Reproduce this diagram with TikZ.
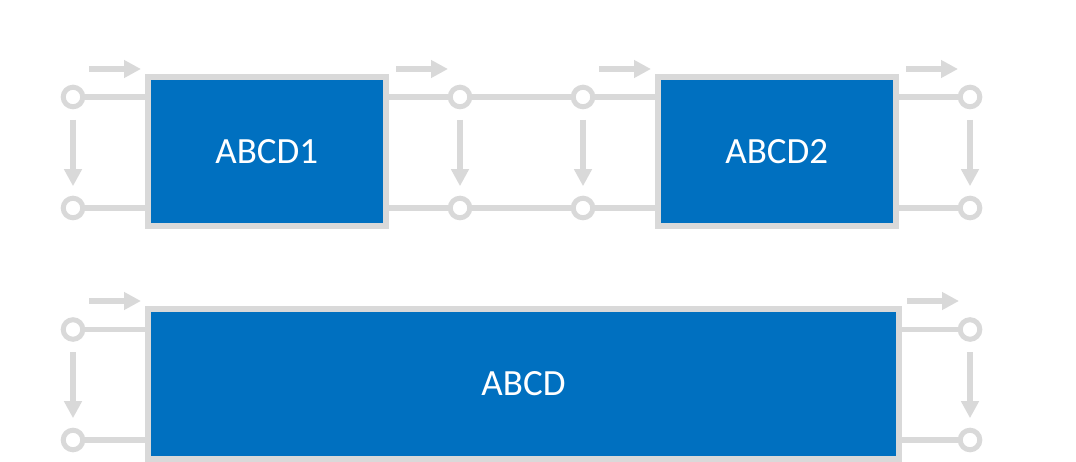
\documentclass[tikz,border=0pt]{standalone}
\usepackage{fontspec}
\setmainfont{Carlito}
\usetikzlibrary{arrows.meta}
\definecolor{linegray}{HTML}{D9D9D9}
\definecolor{blockblue}{HTML}{0070C0}

\begin{document}
\begin{tikzpicture}[x=1pt, y=-1pt,
  port/.style={circle, draw=linegray, line width=5pt, fill=white, minimum size=19.6pt, inner sep=0pt, outer sep=0pt},
  block/.style={draw=linegray, line width=6pt, fill=blockblue, text=white, inner sep=0pt, outer sep=0pt, minimum height=149pt, font=\fontsize{37}{44}\selectfont},
  wire/.style={draw=linegray, line width=5.5pt},
  flow/.style={draw=linegray, line width=6pt, -{Triangle[length=17pt, width=17pt]}}]
\useasboundingbox (0,0) rectangle (1076,462);
% Blocks
\node[block, minimum width=237.5pt] (b1) at (266.75,151.5) {ABCD1};
\node[block, minimum width=237.5pt] (b2) at (776.75,151.5) {ABCD2};
\node[block, minimum width=751pt, minimum height=149.5pt] (b3) at (523.5,383.75) {ABCD};
% Ports
\node[port] (p1a) at (73,97) {};
\node[port] (p1b) at (73,208) {};
\node[port] (p2a) at (460,97) {};
\node[port] (p2b) at (460,208) {};
\node[port] (p3a) at (583,97) {};
\node[port] (p3b) at (583,208) {};
\node[port] (p4a) at (970,97) {};
\node[port] (p4b) at (970,208) {};
\node[port] (q1a) at (73,329.5) {};
\node[port] (q1b) at (73,440) {};
\node[port] (q2a) at (970,329.5) {};
\node[port] (q2b) at (970,440) {};
% Wires
\draw[wire] (p1a) -- (p1a -| b1.west);
\draw[wire] (p1b) -- (p1b -| b1.west);
\draw[wire] (b1.east |- p2a) -- (p2a);
\draw[wire] (b1.east |- p2b) -- (p2b);
\draw[wire] (p2a) -- (p3a);
\draw[wire] (p2b) -- (p3b);
\draw[wire] (p3a) -- (p3a -| b2.west);
\draw[wire] (p3b) -- (p3b -| b2.west);
\draw[wire] (b2.east |- p4a) -- (p4a);
\draw[wire] (b2.east |- p4b) -- (p4b);
\draw[wire] (q1a) -- (q1a -| b3.west);
\draw[wire] (q1b) -- (q1b -| b3.west);
\draw[wire] (b3.east |- q2a) -- (q2a);
\draw[wire] (b3.east |- q2b) -- (q2b);
% Arrows
\draw[flow, shorten <=13pt, shorten >=12pt] (p1a) -- (p1b);
\draw[flow, shorten <=13pt, shorten >=12pt] (p2a) -- (p2b);
\draw[flow, shorten <=13pt, shorten >=12pt] (p3a) -- (p3b);
\draw[flow, shorten <=13pt, shorten >=12pt] (p4a) -- (p4b);
\draw[flow, shorten <=13pt, shorten >=12pt] (q1a) -- (q1b);
\draw[flow, shorten <=13pt, shorten >=12pt] (q2a) -- (q2b);
\draw[flow] ([xshift=-59pt, yshift=8pt]b1.north west) -- ([xshift=-7pt, yshift=8pt]b1.north west);
\draw[flow] ([xshift=10.5pt, yshift=8pt]b1.north east) -- ([xshift=62.5pt, yshift=8pt]b1.north east);
\draw[flow] ([xshift=-59pt, yshift=8pt]b2.north west) -- ([xshift=-7pt, yshift=8pt]b2.north west);
\draw[flow] ([xshift=10.5pt, yshift=8pt]b2.north east) -- ([xshift=62.5pt, yshift=8pt]b2.north east);
\draw[flow] ([xshift=-59pt, yshift=8pt]b3.north west) -- ([xshift=-7pt, yshift=8pt]b3.north west);
\draw[flow] ([xshift=8pt, yshift=8pt]b3.north east) -- ([xshift=60pt, yshift=8pt]b3.north east);
\end{tikzpicture}
\end{document}
